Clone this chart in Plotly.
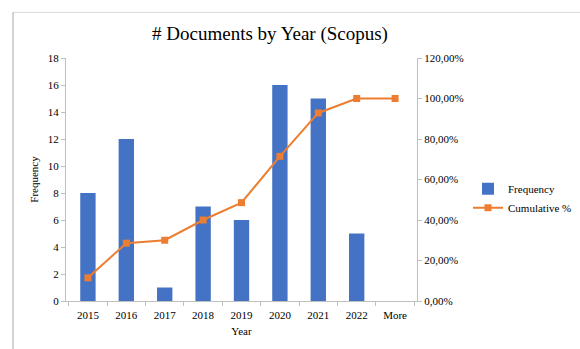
import plotly.graph_objects as go

categories = ["2015", "2016", "2017", "2018", "2019", "2020", "2021", "2022", "More"]
frequency = [8, 12, 1, 7, 6, 16, 15, 5, 0]
cumulative = [0.1143, 0.2857, 0.30, 0.40, 0.4857, 0.7143, 0.9286, 1.0, 1.0]
right_tickvals = [0, 0.2, 0.4, 0.6, 0.8, 1.0, 1.2]
right_ticktext = ["0,00%", "20,00%", "40,00%", "60,00%", "80,00%", "100,00%", "120,00%"]

FONT = "Liberation Serif, Times New Roman, serif"
BLUE = "#4472C4"
ORANGE = "#ED7D31"
AX = "#BFBFBF"

fig = go.Figure()
fig.add_trace(go.Bar(x=categories, y=frequency, name="Frequency",
                     marker=dict(color=BLUE, line=dict(width=0)), yaxis="y"))
fig.add_trace(go.Scatter(x=categories, y=cumulative, name="Cumulative %",
                         mode="lines+markers", yaxis="y2",
                         line=dict(color=ORANGE, width=2),
                         marker=dict(symbol="square", size=7, color=ORANGE)))

L, R, T, B = 66, 163, 57.7, 48
W, H = 580, 349
pw = W - L - R
ph = H - T - B

fig.update_layout(
    width=W, height=H,
    margin=dict(l=L, r=R, t=T, b=B, pad=0, autoexpand=False),
    paper_bgcolor="white", plot_bgcolor="white",
    font=dict(family=FONT, size=11, color="#000000"),
    title=dict(text="# Documents by Year (Scopus)", x=(270) / W, xanchor="center",
               y=1 - 33 / H, yanchor="middle",
               font=dict(family=FONT, size=19, color="#000000")),
    bargap=0.6,
    showlegend=True,
    legend=dict(x=(468 - L) / pw, y=(H - B - 174) / ph, xanchor="left", yanchor="top",
                font=dict(family=FONT, size=11), bgcolor="rgba(0,0,0,0)",
                tracegroupgap=2, itemwidth=30),
    xaxis=dict(type="category", showline=True, linecolor=AX, linewidth=1,
               ticks="outside", ticklen=4, tickcolor=AX, tickson="boundaries",
               showgrid=False, tickfont=dict(size=11), ticklabelstandoff=4,
               title=dict(text="Year", font=dict(size=11), standoff=7)),
    yaxis=dict(range=[0, 18], dtick=2, showline=True, linecolor=AX, linewidth=1,
               ticks="outside", ticklen=4, tickcolor=AX, showgrid=False,
               zeroline=False, tickfont=dict(size=11),
               title=dict(text="Frequency", font=dict(size=11), standoff=6)),
    yaxis2=dict(range=[0, 1.2], overlaying="y", side="right",
                tickvals=right_tickvals, ticktext=right_ticktext,
                showline=True, linecolor=AX, linewidth=1,
                ticks="outside", ticklen=4, tickcolor=AX, showgrid=False,
                zeroline=False, tickfont=dict(size=11)),
    shapes=[
        dict(type="line", xref="paper", yref="paper",
             x0=(13 - L) / pw, x1=(W - L) / pw, y0=(H - B - 12) / ph, y1=(H - B - 12) / ph,
             line=dict(color="#D9D9D9", width=1)),
        dict(type="line", xref="paper", yref="paper",
             x0=(13 - L) / pw, x1=(13 - L) / pw, y0=(H - B - 12) / ph, y1=(H - B - H) / ph,
             line=dict(color="#A6A6A6", width=1)),
    ],
)

fig.write_html("out.html")
